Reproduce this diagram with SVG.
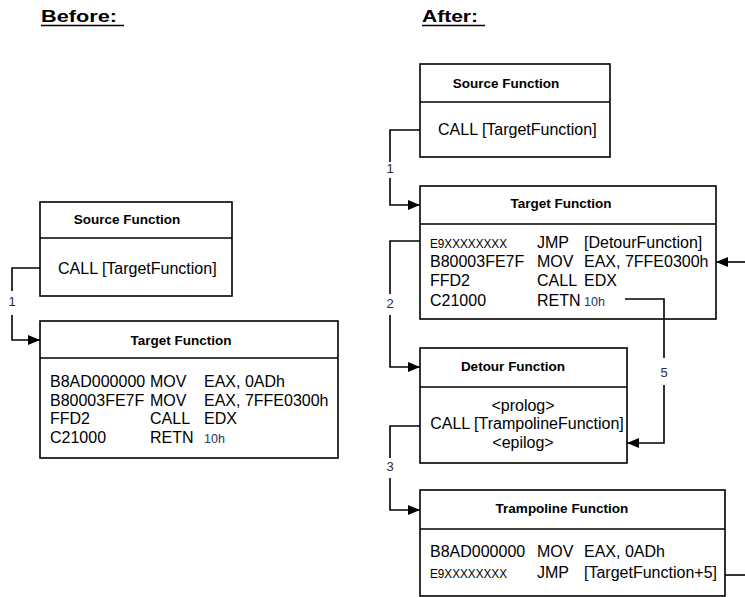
<svg xmlns="http://www.w3.org/2000/svg" width="745" height="597" viewBox="0 0 745 597">
  <style>
    text { font-family: "Liberation Sans", Arial, sans-serif; fill: #000; }
    .head { font-size: 17px; font-weight: bold; }
    .title { font-size: 13.5px; font-weight: bold; text-anchor: middle; }
    .code { font-size: 16px; }
    .small { font-size: 12.5px; fill: #1c3566; }
    .hex { font-size: 12px; }
    .num { font-size: 13px; text-anchor: middle; fill: #2a2a2a; }
    .box { fill: #fff; stroke: #000; stroke-width: 1.6; }
    .div { stroke: #000; stroke-width: 1.4; }
    .wire { fill: none; stroke: #000; stroke-width: 1.6; }
    .arr { fill: none; stroke: #000; stroke-width: 1.6; marker-end: url(#head); }
    .ul { stroke: #000; stroke-width: 1.6; }
  </style>
  <defs>
    <marker id="head" viewBox="0 0 12 10" refX="12" refY="5" markerWidth="12" markerHeight="10" markerUnits="userSpaceOnUse" orient="auto">
      <path d="M0,0 L12,5 L0,10 z" fill="#000"/>
    </marker>
  </defs>

  <!-- headings -->
  <g id="heading-before">
    <text class="head" x="41" y="22" textLength="76" lengthAdjust="spacingAndGlyphs">Before:</text>
    <line class="ul" x1="41" y1="25.5" x2="124" y2="25.5"/>
  </g>
  <g id="heading-after">
    <text class="head" x="422" y="22" textLength="56" lengthAdjust="spacingAndGlyphs">After:</text>
    <line class="ul" x1="422" y1="25.5" x2="485" y2="25.5"/>
  </g>

  <!-- BEFORE: source function -->
  <g id="before-source">
    <rect class="box" x="40" y="202" width="192" height="94"/>
    <line class="div" x1="40" y1="238" x2="232" y2="238"/>
    <text class="title" x="127" y="224">Source Function</text>
    <text class="code" x="58" y="274">CALL [TargetFunction]</text>
  </g>

  <!-- BEFORE: target function -->
  <g id="before-target">
    <rect class="box" x="40" y="321" width="298" height="137"/>
    <line class="div" x1="40" y1="358" x2="338" y2="358"/>
    <text class="title" x="181" y="345">Target Function</text>
    <text class="code" x="50" y="387">B8AD000000</text>
    <text class="code" x="150" y="387">MOV</text>
    <text class="code" x="204" y="387">EAX, 0ADh</text>
    <text class="code" x="50" y="406">B80003FE7F</text>
    <text class="code" x="150" y="406">MOV</text>
    <text class="code" x="204" y="406">EAX, 7FFE0300h</text>
    <text class="code" x="50" y="424">FFD2</text>
    <text class="code" x="150" y="424">CALL</text>
    <text class="code" x="204" y="424">EDX</text>
    <text class="code" x="50" y="443">C21000</text>
    <text class="code" x="150" y="443">RETN</text>
    <text class="small" x="204" y="443">10h</text>
  </g>

  <!-- AFTER: source function -->
  <g id="after-source">
    <rect class="box" x="420" y="64" width="190" height="93"/>
    <line class="div" x1="420" y1="102" x2="610" y2="102"/>
    <text class="title" x="506" y="88">Source Function</text>
    <text class="code" x="438" y="135">CALL [TargetFunction]</text>
  </g>

  <!-- AFTER: patched target function -->
  <g id="after-target">
    <rect class="box" x="420" y="186" width="296" height="133"/>
    <line class="div" x1="420" y1="224" x2="716" y2="224"/>
    <text class="title" x="561" y="208">Target Function</text>
    <text class="hex" x="430" y="248" textLength="77" lengthAdjust="spacingAndGlyphs">E9XXXXXXXX</text>
    <text class="code" x="537" y="248">JMP</text>
    <text class="code" x="584" y="248">[DetourFunction]</text>
    <text class="code" x="430" y="267">B80003FE7F</text>
    <text class="code" x="537" y="267">MOV</text>
    <text class="code" x="584" y="267">EAX, 7FFE0300h</text>
    <text class="code" x="430" y="286">FFD2</text>
    <text class="code" x="537" y="286">CALL</text>
    <text class="code" x="584" y="286">EDX</text>
    <text class="code" x="430" y="306">C21000</text>
    <text class="code" x="537" y="306">RETN</text>
    <text class="small" x="584" y="306">10h</text>
  </g>

  <!-- AFTER: detour function -->
  <g id="after-detour">
    <rect class="box" x="420" y="348" width="207" height="115"/>
    <line class="div" x1="420" y1="387" x2="627" y2="387"/>
    <text class="title" x="513" y="371">Detour Function</text>
    <text class="code" x="523" y="411" text-anchor="middle">&lt;prolog&gt;</text>
    <text class="code" x="527" y="429" text-anchor="middle">CALL [TrampolineFunction]</text>
    <text class="code" x="523" y="448" text-anchor="middle">&lt;epilog&gt;</text>
  </g>

  <!-- AFTER: trampoline function -->
  <g id="after-trampoline">
    <rect class="box" x="420" y="490" width="305" height="106"/>
    <line class="div" x1="420" y1="529" x2="725" y2="529"/>
    <text class="title" x="562" y="513">Trampoline Function</text>
    <text class="code" x="430" y="557">B8AD000000</text>
    <text class="code" x="537" y="557">MOV</text>
    <text class="code" x="584" y="557">EAX, 0ADh</text>
    <text class="hex" x="430" y="578" textLength="77" lengthAdjust="spacingAndGlyphs">E9XXXXXXXX</text>
    <text class="code" x="537" y="578">JMP</text>
    <text class="code" x="584" y="578">[TargetFunction+5]</text>
  </g>

  <!-- connectors (drawn over the boxes) -->
  <g id="connectors">
    <!-- before: source -> target -->
    <path class="wire" d="M40,268 H12 V291"/>
    <path class="arr" d="M12,315 V340 H40"/>
    <text class="num" x="12" y="306">1</text>

    <!-- after: source -> target -->
    <path class="wire" d="M420,130 H390 V162"/>
    <path class="arr" d="M390,178 V205 H420"/>
    <text class="num" x="390" y="173">1</text>

    <!-- after: target -> detour -->
    <path class="wire" d="M420,241 H390 V294"/>
    <path class="arr" d="M390,315 V367 H420"/>
    <text class="num" x="390" y="308">2</text>

    <!-- after: detour -> trampoline -->
    <path class="wire" d="M420,426 H390 V458"/>
    <path class="arr" d="M390,478 V510 H420"/>
    <text class="num" x="390" y="471">3</text>

    <!-- after: trampoline jumps back into target -->
    <path class="wire" d="M725,575 H745"/>
    <path class="arr" d="M745,262 H716"/>

    <!-- after: target returns to detour -->
    <path class="wire" d="M625,299 H664 V358"/>
    <path class="arr" d="M664,385 V443 H627"/>
    <text class="num" x="664" y="377">5</text>
  </g>
</svg>
